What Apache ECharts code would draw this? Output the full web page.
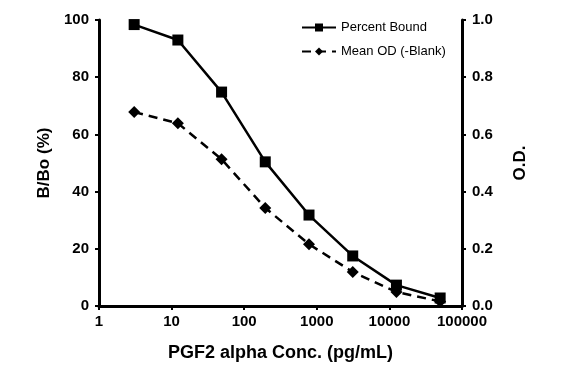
<!DOCTYPE html>
<html>
<head>
<meta charset="utf-8">
<script src="https://cdn.jsdelivr.net/npm/echarts@6/dist/echarts.min.js"></script>
<style>
  html, body { margin: 0; padding: 0; background: #fff; }
  #chart { width: 565px; height: 377px; }
</style>
</head>
<body>
<div id="chart"></div>
<script>
// PGF2 alpha standard curve
const conc = [3.05, 12.2, 48.8, 195, 781, 3125, 12500, 50000]
const percentBound = [98.4, 93, 74.8, 50.4, 31.8, 17.5, 7.3, 2.8]
const meanOD = [0.678, 0.639, 0.513, 0.343, 0.216, 0.119, 0.049, 0.016]

const font = 'Liberation Sans, Arial, sans-serif'
const black = '#000'

function pairs(xs, ys) {
  return xs.map((x, i) => [x, ys[i]])
}

const chart = echarts.init(document.getElementById('chart'))
chart.setOption({
  animation: false,
  textStyle: { fontFamily: font, color: black },
  grid: { left: 99, right: 103, top: 20, bottom: 71 },
  legend: {
    orient: 'vertical',
    left: 296,
    top: 16,
    itemWidth: 34,
    itemHeight: 10,
    itemGap: 11,
    textStyle: { fontFamily: font, fontSize: 13, color: black },
    data: ['Percent Bound', 'Mean OD (-Blank)'],
  },
  xAxis: {
    type: 'log',
    logBase: 10,
    min: 1,
    max: 100000,
    name: 'PGF2 alpha Conc. (pg/mL)',
    nameLocation: 'middle',
    nameGap: 38,
    nameTextStyle: { fontFamily: font, fontSize: 18, fontWeight: 'bold', color: black },
    axisLine: { lineStyle: { color: black, width: 3 } },
    axisTick: { show: true, length: 4, lineStyle: { color: black, width: 2 } },
    axisLabel: {
      fontFamily: font, fontSize: 15, fontWeight: 'bold', color: black, margin: 8,
      formatter: (v) => String(v),
    },
    splitLine: { show: false },
  },
  yAxis: [
    {
      type: 'value',
      min: 0,
      max: 100,
      interval: 20,
      name: 'B/Bo (%)',
      nameLocation: 'middle',
      nameGap: 46,
      nameRotate: 90,
      nameTextStyle: { fontFamily: font, fontSize: 17, fontWeight: 'bold', color: black },
      axisLine: { show: true, lineStyle: { color: black, width: 3 } },
      axisTick: { show: true, length: 4, lineStyle: { color: black, width: 2 } },
      axisLabel: { fontFamily: font, fontSize: 15, fontWeight: 'bold', color: black, margin: 10 },
      splitLine: { show: false },
    },
    {
      type: 'value',
      min: 0,
      max: 1,
      interval: 0.2,
      position: 'right',
      name: 'O.D.',
      nameLocation: 'middle',
      nameGap: 50,
      nameRotate: 90,
      nameTextStyle: { fontFamily: font, fontSize: 17, fontWeight: 'bold', color: black },
      axisLine: { show: true, lineStyle: { color: black, width: 3 } },
      axisTick: { show: true, length: 4, lineStyle: { color: black, width: 2 } },
      minorTick: { show: true, splitNumber: 10, length: 2, lineStyle: { color: black, width: 1 } },
      axisLabel: {
        fontFamily: font, fontSize: 15, fontWeight: 'bold', color: black, margin: 10,
        formatter: (v) => v.toFixed(1),
      },
      splitLine: { show: false },
    },
  ],
  series: [
    {
      name: 'Percent Bound',
      type: 'line',
      yAxisIndex: 0,
      data: pairs(conc, percentBound),
      symbol: 'rect',
      symbolSize: 11,
      lineStyle: { color: black, width: 2.5 },
      itemStyle: { color: black },
      z: 3,
    },
    {
      name: 'Mean OD (-Blank)',
      type: 'line',
      yAxisIndex: 1,
      data: pairs(conc, meanOD),
      symbol: 'diamond',
      symbolSize: 12,
      lineStyle: { color: black, width: 2.5, type: [9, 6] },
      itemStyle: { color: black },
      z: 2,
    },
  ],
})
</script>
</body>
</html>
